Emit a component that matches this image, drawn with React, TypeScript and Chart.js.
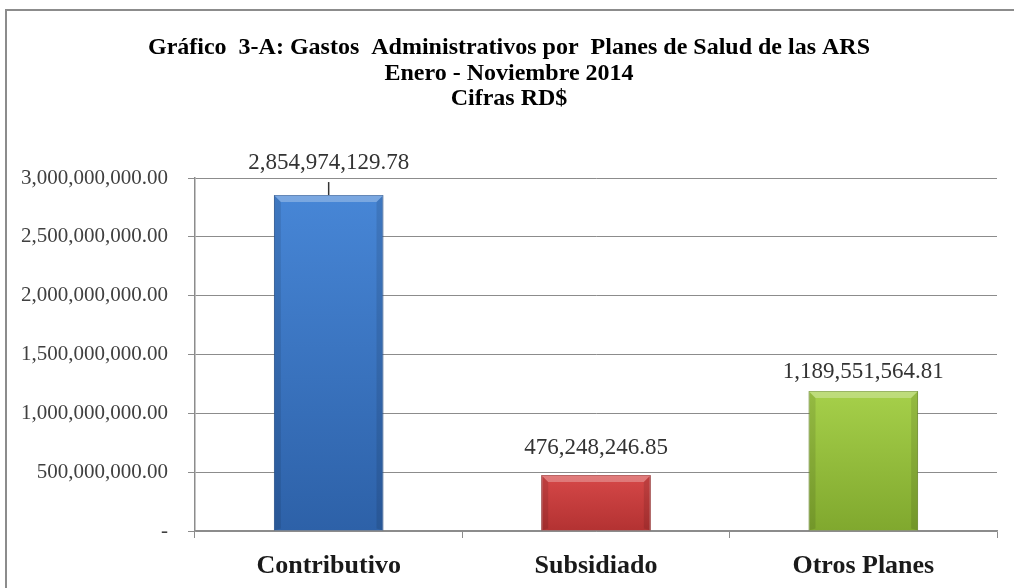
import React, { useEffect, useRef } from "react";
import { Chart, registerables } from "chart.js";

Chart.register(...registerables);

const titleLines = [
  "Gráfico  3-A: Gastos  Administrativos por  Planes de Salud de las ARS",
  "Enero - Noviembre 2014",
  "Cifras RD$",
];
const categories = ["Contributivo", "Subsidiado", "Otros Planes"];
const values = [2854974129.78, 476248246.85, 1189551564.81];
const valueLabels = ["2,854,974,129.78", "476,248,246.85", "1,189,551,564.81"];
const yMin = 0;
const yMax = 3000000000;
const yStep = 500000000;
const barTopColors = ["#4786d6", "#d64848", "#a6d04a"];
const barBottomColors = ["#2d61a8", "#b33232", "#80a82e"];
const barBorderColors = ["#2a5a9c", "#a02a2a", "#74992a"];

const labelOffsets = [32, 27, 19];
const leaderLengths = [13, 0, 0];

const FONT = "'Liberation Serif', 'Times New Roman', serif";

function formatTick(v: number): string {
  if (v === 0) return "-";
  return v.toLocaleString("en-US", { minimumFractionDigits: 2, maximumFractionDigits: 2 });
}

const framePlugin = {
  id: "frame",
  beforeDraw(chart: any) {
    const ctx = chart.ctx;
    ctx.save();
    ctx.fillStyle = "#ffffff";
    ctx.fillRect(0, 0, chart.width, chart.height);
    ctx.strokeStyle = "#8c8c8c";
    ctx.lineWidth = 2;
    ctx.beginPath();
    ctx.moveTo(6, chart.height + 2);
    ctx.lineTo(6, 10);
    ctx.lineTo(chart.width + 2, 10);
    ctx.stroke();
    ctx.restore();
  },
  afterDraw(chart: any) {
    const ctx = chart.ctx;
    ctx.save();
    ctx.fillStyle = "#000000";
    ctx.font = `bold 24px ${FONT}`;
    ctx.textAlign = "center";
    ctx.textBaseline = "middle";
    const ys = [48, 74, 99];
    titleLines.forEach((t, i) => ctx.fillText(t, 509, ys[i]));
    ctx.restore();
  },
};

const bevelPlugin = {
  id: "bevel",
  afterDatasetsDraw(chart: any) {
    const ctx = chart.ctx;
    const meta = chart.getDatasetMeta(0);
    ctx.save();
    meta.data.forEach((bar: any) => {
      const { x, y, base, width } = bar.getProps(["x", "y", "base", "width"], true);
      const l = x - width / 2;
      const r = x + width / 2;
      const b = 7;
      // top highlight
      ctx.fillStyle = "rgba(255,255,255,0.28)";
      ctx.beginPath();
      ctx.moveTo(l, y);
      ctx.lineTo(r, y);
      ctx.lineTo(r - b, y + b);
      ctx.lineTo(l + b, y + b);
      ctx.closePath();
      ctx.fill();
      // side shading
      ctx.fillStyle = "rgba(0,0,0,0.10)";
      ctx.beginPath();
      ctx.moveTo(l, y);
      ctx.lineTo(l + b, y + b);
      ctx.lineTo(l + b, base - 2);
      ctx.lineTo(l, base);
      ctx.closePath();
      ctx.fill();
      ctx.beginPath();
      ctx.moveTo(r, y);
      ctx.lineTo(r - b, y + b);
      ctx.lineTo(r - b, base - 2);
      ctx.lineTo(r, base);
      ctx.closePath();
      ctx.fill();
    });
    ctx.restore();
  },
};

const labelPlugin = {
  id: "valueLabels",
  afterDatasetsDraw(chart: any) {
    const ctx = chart.ctx;
    const meta = chart.getDatasetMeta(0);
    ctx.save();
    ctx.font = `23px ${FONT}`;
    ctx.fillStyle = "#333333";
    ctx.textAlign = "center";
    ctx.textBaseline = "middle";
    meta.data.forEach((bar: any, i: number) => {
      const x = bar.x;
      const y = bar.y;
      if (leaderLengths[i] > 0) {
        ctx.strokeStyle = "#333333";
        ctx.lineWidth = 1.5;
        ctx.beginPath();
        ctx.moveTo(x, y);
        ctx.lineTo(x, y - leaderLengths[i]);
        ctx.stroke();
      }
      ctx.fillText(valueLabels[i], x, y - labelOffsets[i]);
    });
    ctx.restore();
  },
};

export default function App() {
  const ref = useRef<HTMLCanvasElement | null>(null);

  useEffect(() => {
    if (!ref.current) return;
    const chart = new Chart(ref.current, {
      type: "bar",
      data: {
        labels: categories,
        datasets: [
          {
            data: values,
            backgroundColor: (c: any) => {
              const chart = c.chart;
              const i = c.dataIndex;
              if (!chart.chartArea || !chart.scales.y || i === undefined) return barTopColors[i ?? 0];
              const top = chart.scales.y.getPixelForValue(values[i]);
              const bottom = chart.scales.y.getPixelForValue(0);
              const g = chart.ctx.createLinearGradient(0, top, 0, bottom);
              g.addColorStop(0, barTopColors[i]);
              g.addColorStop(1, barBottomColors[i]);
              return g;
            },
            borderColor: barBorderColors,
            borderWidth: 1,
            barPercentage: 0.41,
            categoryPercentage: 1,
          },
        ],
      },
      options: {
        responsive: false,
        animation: false,
        layout: { padding: { left: 0, right: 17, top: 178, bottom: 0 } },
        plugins: {
          legend: { display: false },
          title: { display: false },
          tooltip: { enabled: false },
        },
        scales: {
          x: {
            grid: {
              display: true,
              drawOnChartArea: false,
              drawTicks: true,
              tickLength: 7,
              color: "#8c8c8c",
              offset: true,
            },
            border: { display: true, color: "#8c8c8c", width: 1.5 },
            ticks: {
              color: "#1a1a1a",
              font: { family: FONT, size: 26, weight: "bold" },
              padding: 13,
            },
            afterFit: (s: any) => {
              s.height = 57;
            },
          },
          y: {
            min: yMin,
            max: yMax,
            ticks: {
              stepSize: yStep,
              color: "#404040",
              font: { family: FONT, size: 21 },
              padding: 20,
              callback: (v: any) => formatTick(Number(v)),
            },
            grid: {
              color: "#8c8c8c",
              lineWidth: 1,
              tickLength: 7,
              drawTicks: true,
            },
            border: { display: true, color: "#8c8c8c", width: 1.5 },
            afterFit: (s: any) => {
              s.width = 195;
            },
          },
        },
      },
      plugins: [framePlugin, bevelPlugin, labelPlugin],
    });
    return () => chart.destroy();
  }, []);

  return (
    <div style={{ position: "absolute", left: 0, top: 0, width: 1014, height: 588 }}>
      <canvas ref={ref} width={1014} height={588} style={{ display: "block" }} />
    </div>
  );
}
